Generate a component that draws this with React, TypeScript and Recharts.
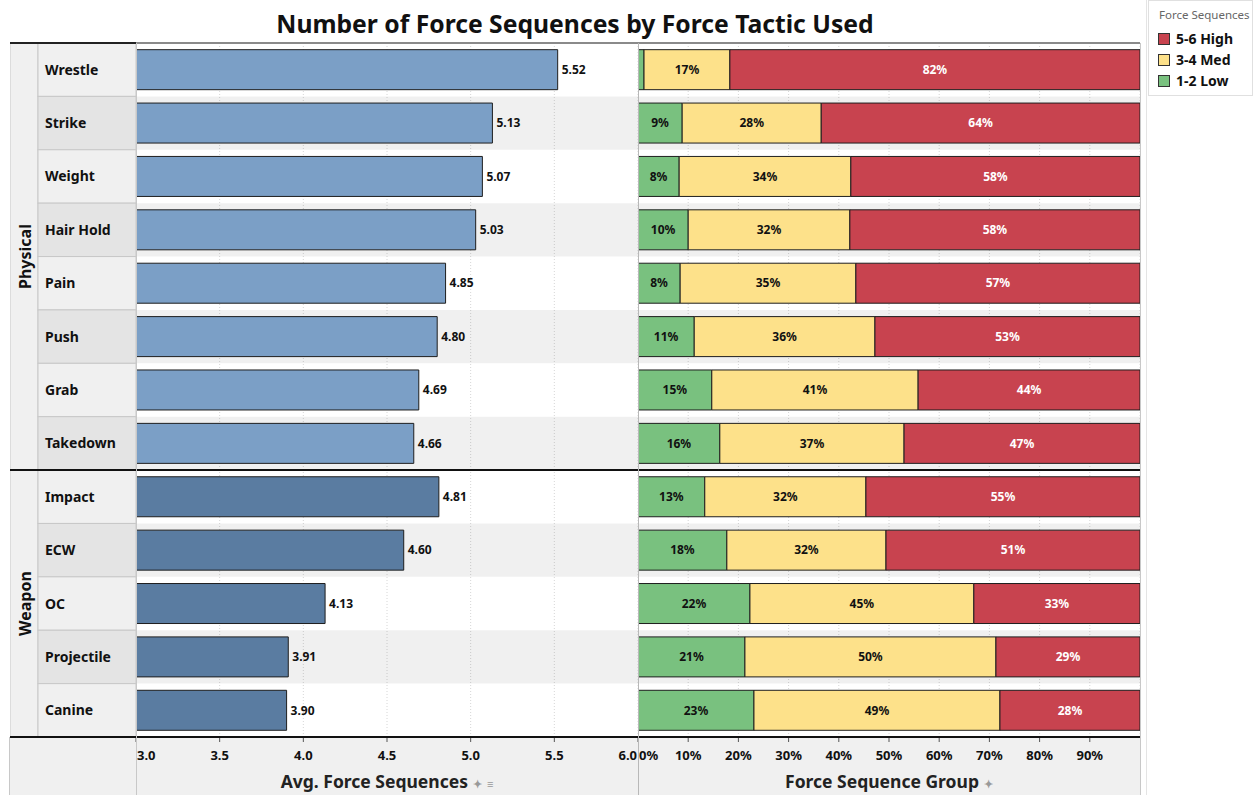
import React from "react";
import { BarChart, Bar, XAxis, YAxis, CartesianGrid, ReferenceArea, LabelList, Cell } from "recharts";

const FONT = '"Noto Sans", "Open Sans", sans-serif';

// data
const tactics = ["Wrestle", "Strike", "Weight", "Hair Hold", "Pain", "Push", "Grab", "Takedown", "Impact", "ECW", "OC", "Projectile", "Canine"];
const tacticGroups = ["Physical", "Physical", "Physical", "Physical", "Physical", "Physical", "Physical", "Physical", "Weapon", "Weapon", "Weapon", "Weapon", "Weapon"];
const avgSequences = [5.52, 5.13, 5.07, 5.03, 4.85, 4.8, 4.69, 4.66, 4.81, 4.6, 4.13, 3.91, 3.9];
const lowShare = [1.2, 8.8, 8.2, 10.0, 8.4, 11.2, 14.7, 16.3, 13.3, 17.7, 22.3, 21.3, 23.1];
const medShare = [17.1, 27.7, 34.2, 32.2, 35.0, 36.0, 41.1, 36.7, 32.1, 31.7, 44.6, 50.0, 49.0];
const highShare = [81.7, 63.5, 57.6, 57.8, 56.6, 52.8, 44.2, 47.0, 54.6, 50.6, 33.1, 28.7, 27.9];
const avgTicks = [3, 3.5, 4, 4.5, 5, 5.5, 6];
const shareTicks = [0, 10, 20, 30, 40, 50, 60, 70, 80, 90];
const legendLabels = ["5-6 High", "3-4 Med", "1-2 Low"];

const colors: Record<string, string> = {
  Physical: "#7b9fc6",
  Weapon: "#5a7ca1",
  low: "#79c17f",
  med: "#fde18a",
  high: "#c8434f",
};
const legendColors = [colors.high, colors.med, colors.low];

const rows = tactics.map((tactic, i) => ({
  tactic,
  group: tacticGroups[i],
  avg: avgSequences[i],
  low: lowShare[i],
  med: medShare[i],
  high: highShare[i],
}));

const CHART_H = 752;
const AXIS_H = 58;
const PLOT_H = CHART_H - AXIS_H;
const BAND = PLOT_H / rows.length;

const CategoryTick = (props: any) => {
  const { y, index, payload } = props;
  const top = y - BAND / 2;
  const row = rows[index];
  const first = index === 0 || rows[index - 1].group !== row.group;
  let groupCell = null;
  if (first) {
    const n = rows.filter((r) => r.group === row.group).length;
    const h = n * BAND;
    groupCell = (
      <g>
        <rect x={0} y={top} width={28} height={h} fill="#f0f0f0" stroke="#c8c8c8" />
        <text transform={`translate(21, ${top + h / 2}) rotate(-90)`} textAnchor="middle" fontSize={16} fontWeight={700} fill="#111">
          {row.group}
        </text>
      </g>
    );
  }
  return (
    <g>
      {groupCell}
      <rect x={28} y={top} width={98} height={BAND} fill={index % 2 ? "#e4e4e4" : "#f0f0f0"} stroke="#c8c8c8" />
      <text x={35} y={y} dy={5} fontSize={14} fontWeight={700} fill="#111">
        {payload.value}
      </text>
    </g>
  );
};

const ValueTick = (props: any) => {
  const { x, y, index, payload, fmt, count, endAnchor } = props;
  let anchor = "middle";
  if (index === 0) anchor = "start";
  else if (endAnchor && index === count - 1) anchor = "end";
  return (
    <text x={x + (anchor === "start" ? 1 : anchor === "end" ? -1 : 0)} y={y} dy={16} textAnchor={anchor} fontSize={13} fontWeight={700} fill="#111">
      {fmt(payload.value)}
    </text>
  );
};

const AxisTitle = (props: any) => {
  const { viewBox, text, sort } = props;
  const cx = viewBox.x + viewBox.width / 2;
  return (
    <text x={cx} y={viewBox.y + 51} textAnchor="middle" fontSize={17.5} fontWeight={700} fill="#222">
      <tspan>{text}</tspan>
      <tspan fontSize={11} fill="#999" dx={5}>✦</tspan>
      {sort ? <tspan fontSize={11} fill="#999" dx={5}>≡</tspan> : null}
    </text>
  );
};

export default function App() {
  return (
    <div style={{ position: "absolute", left: 0, top: 0, width: 1254, height: 795, background: "#fff", fontFamily: FONT, overflow: "hidden" }}>
      <div style={{ position: "absolute", left: 0, top: 12, width: 1150, textAlign: "center", fontSize: 24.7, lineHeight: "24px", fontWeight: 700, color: "#111" }}>
        Number of Force Sequences by Force Tactic Used
      </div>

      {/* footer band under the axes */}
      <div style={{ position: "absolute", left: 10, top: 737, width: 1130, height: 58, background: "#f0f0f0" }} />

      <div style={{ position: "absolute", left: 10, top: 43 }}>
        <BarChart width={628} height={CHART_H} data={rows} layout="vertical" margin={{ top: 0, right: 0, bottom: 0, left: 0 }} barCategoryGap="12.5%">
          <CartesianGrid horizontal={false} stroke="#d6d6d6" strokeDasharray="1 2" />
          {rows.map((r, i) =>
            i % 2 ? <ReferenceArea key={r.tactic} y1={r.tactic} y2={r.tactic} fill="#000" fillOpacity={0.06} stroke="none" /> : null
          )}
          <XAxis
            type="number"
            domain={[3, 6]}
            ticks={avgTicks}
            allowDataOverflow
            height={AXIS_H}
            axisLine={false}
            tickLine={{ stroke: "#555" }}
            tickSize={5}
            tickMargin={2}
            interval={0}
            tick={<ValueTick fmt={(v: number) => v.toFixed(1)} count={avgTicks.length} endAnchor />}
            label={<AxisTitle text="Avg. Force Sequences" sort />}
          />
          <YAxis type="category" dataKey="tactic" width={126} axisLine={false} tickLine={false} interval={0} tick={<CategoryTick />} />
          <Bar dataKey="avg" isAnimationActive={false} stroke="#1e1e1e" strokeWidth={1}>
            {rows.map((r) => (
              <Cell key={r.tactic} fill={colors[r.group]} />
            ))}
            <LabelList dataKey="avg" position="right" offset={4} fill="#111" fontSize={12} fontWeight={700} formatter={(v: any) => Number(v).toFixed(2)} />
          </Bar>
        </BarChart>
      </div>

      <div style={{ position: "absolute", left: 638, top: 43 }}>
        <BarChart width={502} height={CHART_H} data={rows} layout="vertical" margin={{ top: 0, right: 0, bottom: 0, left: 0 }} barCategoryGap="12.5%">
          <CartesianGrid horizontal={false} stroke="#d6d6d6" strokeDasharray="1 2" />
          {rows.map((r, i) =>
            i % 2 ? <ReferenceArea key={r.tactic} y1={r.tactic} y2={r.tactic} fill="#000" fillOpacity={0.06} stroke="none" /> : null
          )}
          <XAxis
            type="number"
            domain={[0, 100]}
            ticks={shareTicks}
            allowDataOverflow
            height={AXIS_H}
            axisLine={false}
            tickLine={{ stroke: "#555" }}
            tickSize={5}
            tickMargin={2}
            interval={0}
            tick={<ValueTick fmt={(v: number) => `${v}%`} count={shareTicks.length} />}
            label={<AxisTitle text="Force Sequence Group" />}
          />
          <YAxis type="category" dataKey="tactic" hide />
          <Bar dataKey="low" stackId="s" fill={colors.low} stroke="#1e1e1e" strokeWidth={1} isAnimationActive={false}>
            <LabelList dataKey="low" position="center" fill="#111" fontSize={12} fontWeight={700} formatter={(v: any) => (v >= 5 ? `${Math.round(v)}%` : "")} />
          </Bar>
          <Bar dataKey="med" stackId="s" fill={colors.med} stroke="#1e1e1e" strokeWidth={1} isAnimationActive={false}>
            <LabelList dataKey="med" position="center" fill="#111" fontSize={12} fontWeight={700} formatter={(v: any) => `${Math.round(v)}%`} />
          </Bar>
          <Bar dataKey="high" stackId="s" fill={colors.high} stroke="#1e1e1e" strokeWidth={1} isAnimationActive={false}>
            <LabelList dataKey="high" position="center" fill="#fff" fontSize={12} fontWeight={700} formatter={(v: any) => `${Math.round(v)}%`} />
          </Bar>
        </BarChart>
      </div>

      {/* frame lines */}
      <div style={{ position: "absolute", left: 10, top: 42, width: 126, height: 2, background: "#222" }} />
      <div style={{ position: "absolute", left: 136, top: 42, width: 1004, height: 2, background: "#8a8a8a" }} />
      <div style={{ position: "absolute", left: 10, top: 469, width: 1130, height: 2, background: "#111" }} />
      <div style={{ position: "absolute", left: 10, top: 736, width: 1130, height: 2, background: "#111" }} />
      <div style={{ position: "absolute", left: 9, top: 737, width: 1, height: 58, background: "#c8c8c8" }} />
      <div style={{ position: "absolute", left: 136, top: 43, width: 1, height: 752, background: "#c8c8c8" }} />
      <div style={{ position: "absolute", left: 638, top: 43, width: 1, height: 752, background: "#b8b8b8" }} />
      <div style={{ position: "absolute", left: 1140, top: 43, width: 1, height: 752, background: "#c8c8c8" }} />
      <div style={{ position: "absolute", left: 1146, top: 0, width: 1, height: 795, background: "#e4e4e4" }} />

      {/* legend */}
      <div style={{ position: "absolute", left: 1148, top: 0, width: 105, height: 96, border: "1px solid #e0e0e0", boxSizing: "border-box" }}>
        <div style={{ position: "absolute", left: 10, top: 6, fontSize: 11.5, color: "#666" }}>Force Sequences</div>
        {legendLabels.map((label, i) => (
          <div key={label} style={{ position: "absolute", left: 9, top: 29 + i * 21, display: "flex", alignItems: "center" }}>
            <div style={{ width: 12, height: 12, background: legendColors[i], border: "1px solid #333", boxSizing: "border-box", marginRight: 6 }} />
            <div style={{ fontSize: 14, fontWeight: 700, color: "#111", lineHeight: "18px" }}>{label}</div>
          </div>
        ))}
      </div>
    </div>
  );
}
